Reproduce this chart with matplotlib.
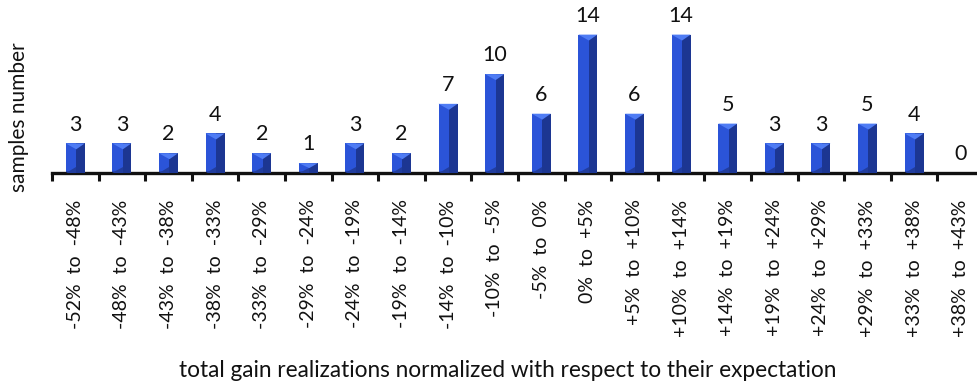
import matplotlib.pyplot as plt
from matplotlib.patches import Polygon

# histogram of normalized gain realizations
bins_from = ["-52%", "-48%", "-43%", "-38%", "-33%", "-29%", "-24%", "-19%", "-14%", "-10%",
             "-5%", "0%", "+5%", "+10%", "+14%", "+19%", "+24%", "+29%", "+33%", "+38%"]
bins_to = ["-48%", "-43%", "-38%", "-33%", "-29%", "-24%", "-19%", "-14%", "-10%", "-5%",
           "0%", "+5%", "+10%", "+14%", "+19%", "+24%", "+29%", "+33%", "+38%", "+43%"]
samples = [3, 3, 2, 4, 2, 1, 3, 2, 7, 10, 6, 14, 6, 14, 5, 3, 3, 5, 4, 0]

labels = [f"{a}  to  {b}" for a, b in zip(bins_from, bins_to)]

plt.rcParams['font.family'] = ['Lato', 'DejaVu Sans']

fig = plt.figure(figsize=(9.77, 3.82), dpi=100)
ax = fig.add_axes([0.0532, 0.547, 0.954, 0.453])

x = list(range(len(samples)))
width = 0.41
front = "#2b54d8"
side = "#1c3692"
top = "#4f7cf4"
base = "#213d9e"

ax.bar(x, samples, width=width, color=front, zorder=2)

# bevel look: darker right face, lighter top wedge, darker bottom wedge
for xi, v in zip(x, samples):
    if v <= 0:
        continue
    x0, x1 = xi - width / 2, xi + width / 2
    xm = x0 + 0.55 * width
    ax.add_patch(Polygon([(xm, 0), (x1, 0), (x1, v), (xm, v)], closed=True,
                         color=side, lw=0, zorder=3))
    bev = min(0.6, 0.5 * v)
    ax.add_patch(Polygon([(x0, v), (x1, v), (xm, v - bev)], closed=True,
                         color=top, lw=0, zorder=4))
    ax.add_patch(Polygon([(x0, 0), (xm, 0), (xm, bev)], closed=True,
                         color=base, lw=0, zorder=4))

for xi, v in zip(x, samples):
    ax.text(xi, v + 1.3, str(v), ha="center", va="baseline", fontsize=15.5, color="#111111")

ax.set_xlim(-0.5, len(samples) - 0.5)
ax.set_ylim(0, 17.5)

for s in ["top", "right", "left"]:
    ax.spines[s].set_visible(False)
ax.spines["bottom"].set_linewidth(2.4)
ax.spines["bottom"].set_color("#111111")

ax.set_yticks([])
ax.set_xticks([i - 0.5 for i in range(len(samples) + 1)])
ax.set_xticklabels([])
ax.set_xticks(x, minor=True)
ax.set_xticklabels(labels, minor=True, rotation=90, fontsize=14, color="#111111")
ax.tick_params(axis="x", which="major", length=6, width=2.2, color="#111111", direction="out")
ax.tick_params(axis="x", which="minor", length=0, pad=19)

ax.set_ylabel("samples number", fontsize=15, color="#111111")
ax.yaxis.set_label_coords(-0.0247, 0.32)
fig.text(0.52, 0.013, "total gain realizations normalized with respect to their expectation",
         ha="center", va="baseline", fontsize=16.3, color="#111111")

fig.savefig("out.png", dpi=100)
